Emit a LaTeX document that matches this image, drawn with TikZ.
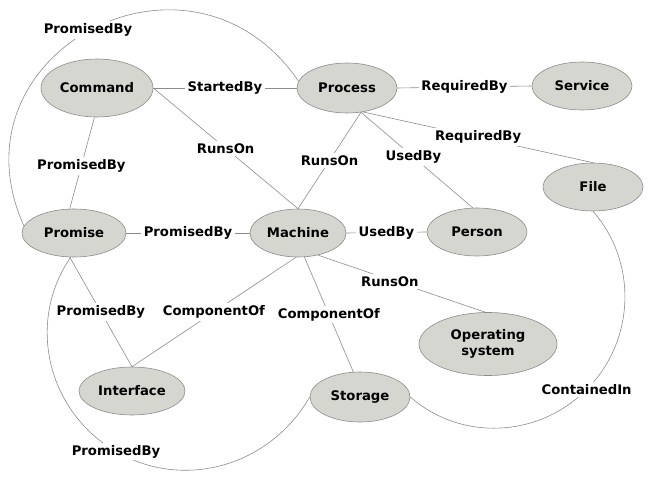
\documentclass[tikz,border=0pt]{standalone}
\usepackage{fontspec}
\setmainfont{DejaVu Sans}
\usetikzlibrary{shapes.geometric}
\definecolor{nodefill}{HTML}{D5D6D0}
\definecolor{edgegray}{HTML}{8C8C8C}
\tikzset{
  ent/.style={ellipse, draw=edgegray, line width=0.6pt, fill=nodefill, inner sep=0pt,
    font=\fontsize{13.2}{15.5}\bfseries, text=black, align=center},
  rel/.style={draw=edgegray, line width=0.6pt},
  lbl/.style={fill=white, inner sep=2.5pt, font=\fontsize{13.2}{15.5}\bfseries, text=black}
}
\begin{document}
\begin{tikzpicture}[x=1pt,y=1pt]
\useasboundingbox (0,0) rectangle (661,-481);
% nodes
\node[ent, minimum width=112, minimum height=58] (command) at (97,-88) {Command};
\node[ent, minimum width=100, minimum height=50] (process) at (347,-88) {Process};
\node[ent, minimum width=100, minimum height=48] (service) at (582,-86) {Service};
\node[ent, minimum width=100, minimum height=48] (file) at (593,-187) {File};
\node[ent, minimum width=100, minimum height=48] (person) at (477,-232) {Person};
\node[ent, minimum width=104, minimum height=48] (promise) at (74,-233) {Promise};
\node[ent, minimum width=96, minimum height=48] (machine) at (298,-233) {Machine};
\node[ent, minimum width=106, minimum height=48] (interface) at (132,-391) {Interface};
\node[ent, minimum width=100, minimum height=50] (storage) at (360,-397) {Storage};
\node[ent, minimum width=138, minimum height=63] (os) at (488,-344) {Operating\\system};
% straight connectors
\draw[rel] (command.east) -- node[lbl] {StartedBy} (process.west);
\draw[rel] (process.east) -- node[lbl] {RequiredBy} (service.west);
\draw[rel] (process.304) -- node[lbl] {RequiredBy} (file.north);
\draw[rel] (command.east) -- node[lbl] {RunsOn} (machine.north);
\draw[rel] (process.300) -- node[lbl] {RunsOn} (machine.north);
\draw[rel] (process.300) -- node[lbl, pos=0.47] {UsedBy} (person.100);
\draw[rel] (command.265) -- node[lbl, pos=0.53] {PromisedBy} (promise.100);
\draw[rel] (promise.east) -- node[lbl] {PromisedBy} (machine.west);
\draw[rel] (machine.east) -- node[lbl] {UsedBy} (person.west);
\draw[rel] (promise.260) -- node[lbl] {PromisedBy} (interface.north);
\draw[rel] (machine.265) -- node[lbl] {ComponentOf} (interface.north);
\draw[rel] (machine.285) -- node[lbl] {ComponentOf} (storage.105);
\draw[rel] (machine.312) -- node[lbl, pos=0.43, yshift=-2pt] {RunsOn} (os.95);
% curved connectors
\coordinate (m1) at (88,-30);
\draw[rel] (promise.172) .. controls (-54,-53) and (190,77) .. (process.172);
\node[lbl] at (m1) {PromisedBy};
\coordinate (m2) at (116,-451.5);
\draw[rel] (promise.262) .. controls (25.6,-323) and (48,-412) .. (m2)
  .. controls (184,-491) and (270,-466) .. (storage.west);
\node[lbl] at (m2) {PromisedBy};
\coordinate (m3) at (586.6,-389.6);
\draw[rel] (storage.east) .. controls (461,-441.4) and (538.2,-438) .. (m3)
  .. controls (635,-341.2) and (638,-262.7) .. (file.south);
\node[lbl] at (m3) {ContainedIn};
\end{tikzpicture}
\end{document}
